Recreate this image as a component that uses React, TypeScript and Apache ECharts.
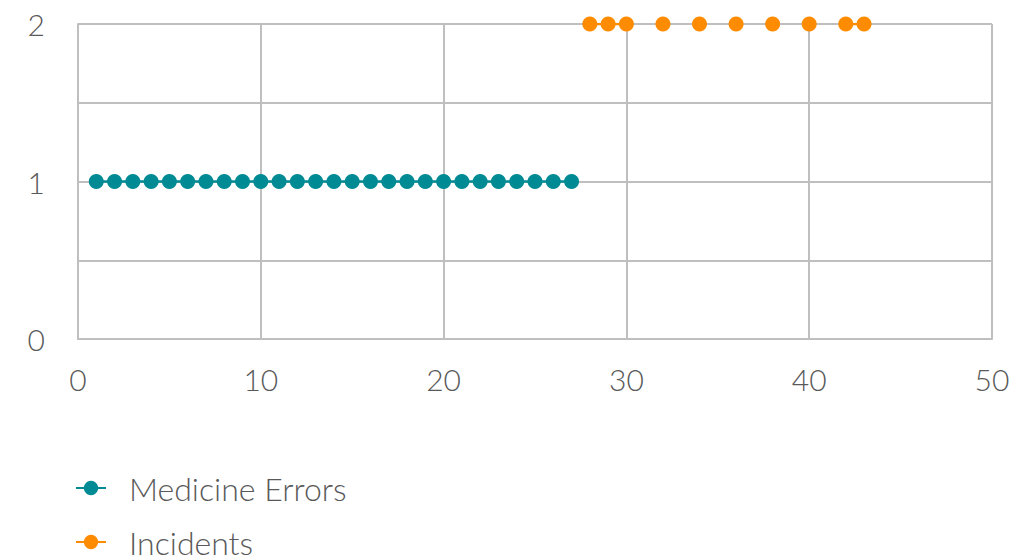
import React, { useEffect, useRef } from "react";
import * as echarts from "echarts";

const xValues: number[] = Array.from({ length: 50 }, (_, i) => i + 1);
// Medicine Errors: present at x = 1..27 with value 1
const medicineX = [1,2,3,4,5,6,7,8,9,10,11,12,13,14,15,16,17,18,19,20,21,22,23,24,25,26,27];
const medicineY = [1,1,1,1,1,1,1,1,1,1,1,1,1,1,1,1,1,1,1,1,1,1,1,1,1,1,1];
// Incidents: present at these x with value 2
const incidentX = [28, 29, 30, 32, 34, 36, 38, 40, 42, 43];
const incidentY = [2, 2, 2, 2, 2, 2, 2, 2, 2, 2];
const yTicks = ["0", "1", "2"];
const seriesNames = ["Medicine Errors", "Incidents"];

function toSeries(xs: number[], ys: number[]) {
  // one entry per integer x, null where there is no point so lines only join consecutive x
  return xValues.map((x) => {
    const idx = xs.indexOf(x);
    return idx >= 0 ? [x, ys[idx]] : [x, null];
  });
}

export default function App() {
  const ref = useRef<HTMLDivElement>(null);
  useEffect(() => {
    if (!ref.current) return;
    const chart = echarts.init(ref.current, undefined, { renderer: "svg" });
    const font = "Lato, 'Noto Sans', sans-serif";
    const legendText = { color: "#595959", fontSize: 32, fontWeight: 300, fontFamily: font, padding: [0, 0, 0, 18] };
    chart.setOption({
      animation: false,
      backgroundColor: "#ffffff",
      grid: { left: 78, right: 38, top: 24, bottom: 221, containLabel: false },
      xAxis: {
        type: "value",
        min: 0,
        max: 50,
        interval: 10,
        axisLine: { show: true, lineStyle: { color: "#BFBFBF", width: 2 } },
        axisTick: { show: false },
        splitLine: { show: true, lineStyle: { color: "#BFBFBF", width: 2 } },
        axisLabel: { color: "#595959", fontSize: 30, fontWeight: 300, fontFamily: font, margin: 25 },
      },
      yAxis: {
        type: "value",
        min: 0,
        max: 2,
        interval: 0.5,
        axisLine: { show: true, lineStyle: { color: "#BFBFBF", width: 2 } },
        axisTick: { show: false },
        splitLine: { show: true, lineStyle: { color: "#BFBFBF", width: 2 } },
        axisLabel: {
          color: "#595959",
          fontSize: 30,
          fontWeight: 300,
          fontFamily: font,
          margin: 33,
          formatter: (v: number) => (Number.isInteger(v) ? yTicks[v] : ""),
        },
      },
      legend: [
        {
          left: 70,
          top: 467,
          itemWidth: 30,
          itemHeight: 18,
          textStyle: legendText,
          data: [seriesNames[0]],
        },
        {
          left: 70,
          top: 521,
          itemWidth: 30,
          itemHeight: 18,
          textStyle: legendText,
          data: [seriesNames[1]],
        },
      ],
      series: [
        {
          name: seriesNames[0],
          type: "line",
          data: toSeries(medicineX, medicineY),
          connectNulls: false,
          symbol: "circle",
          symbolSize: 15,
          showAllSymbol: true,
          itemStyle: { color: "#008B94" },
          lineStyle: { color: "#008B94", width: 2.5 },
        },
        {
          name: seriesNames[1],
          type: "line",
          data: toSeries(incidentX, incidentY),
          connectNulls: false,
          symbol: "circle",
          symbolSize: 15,
          showAllSymbol: true,
          itemStyle: { color: "#FF8C00" },
          lineStyle: { color: "#FF8C00", width: 2.5 },
        },
      ],
    });
    return () => chart.dispose();
  }, []);
  return <div ref={ref} style={{ width: 1030, height: 560, position: "absolute", left: 0, top: 0 }} />;
}
